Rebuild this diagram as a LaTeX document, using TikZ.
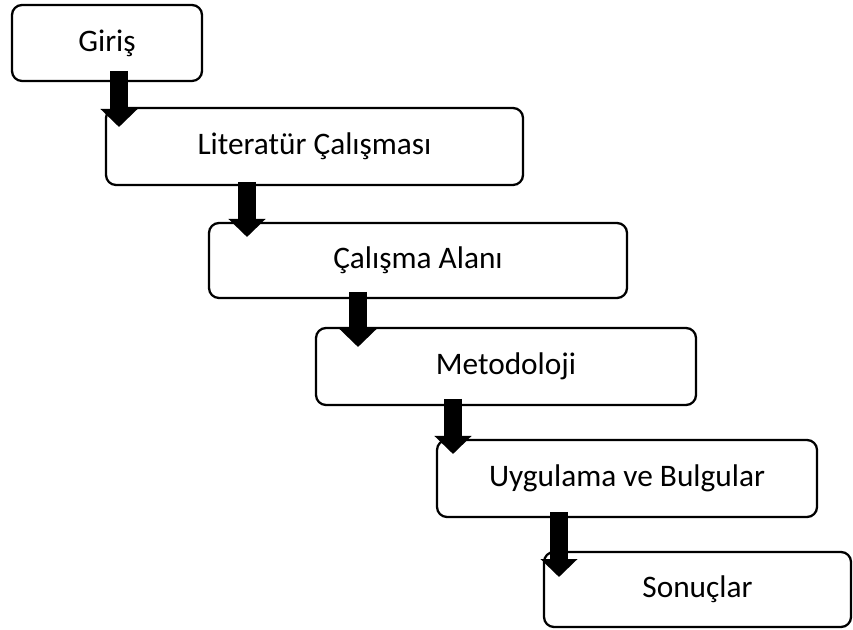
\documentclass[tikz,border=0pt]{standalone}
\usepackage{fontspec}
\setmainfont{Carlito}
\usetikzlibrary{arrows.meta}
\begin{document}
\begin{tikzpicture}[x=0.75pt,y=-0.75pt,
  stagebox/.style={draw=black,line width=1.7pt,rounded corners=7.5pt,fill=white},
  stagetext/.style={font=\fontsize{23.5}{28}\selectfont,anchor=center,inner sep=0pt},
  blockarrow/.style={line width=13.5pt,-{Triangle[width=27pt,length=13.5pt]},black}]
\useasboundingbox (0,0) rectangle (853,630);
\fill[white] (0,0) rectangle (853,630);
\newcommand{\stage}[6]{%
  \draw[stagebox] (#2,#3) rectangle (#4,#5);
  \node[stagetext] (#1) at ({(#2+#4)/2},{(#3+#5)/2}) {#6};}
\stage{giris}{12}{5}{202}{81}{Giriş}
\stage{lit}{106}{108}{523}{185}{Literatür Çalışması}
\stage{alan}{209}{223}{627}{298}{Çalışma Alanı}
\stage{met}{316}{328}{696}{405}{Metodoloji}
\stage{uyg}{437}{440}{817}{517}{Uygulama ve Bulgular}
\stage{son}{544}{552}{851}{627}{Sonuçlar}
\coordinate (a1s) at (119,71);  \coordinate (a1e) at (119,127);
\coordinate (a2s) at (247,182); \coordinate (a2e) at (247,237);
\coordinate (a3s) at (358,292); \coordinate (a3e) at (358,347);
\coordinate (a4s) at (453,399); \coordinate (a4e) at (453,454);
\coordinate (a5s) at (559,512); \coordinate (a5e) at (559,577);
\draw[blockarrow] (a1s) -- (a1e);
\draw[blockarrow] (a2s) -- (a2e);
\draw[blockarrow] (a3s) -- (a3e);
\draw[blockarrow] (a4s) -- (a4e);
\draw[blockarrow] (a5s) -- (a5e);
\end{tikzpicture}
\end{document}
